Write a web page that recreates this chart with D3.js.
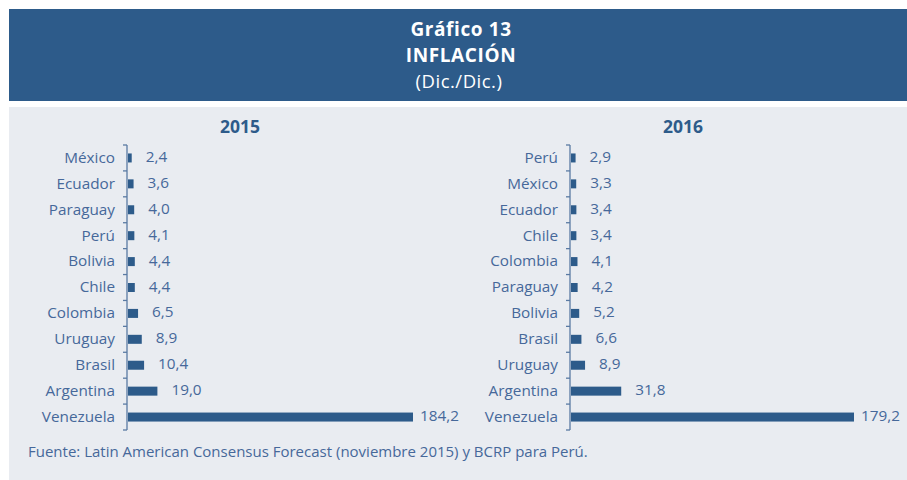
<!DOCTYPE html>
<html>
<head>
<meta charset="utf-8">
<script src="https://cdn.jsdelivr.net/npm/d3@7"></script>
<style>
  body { margin: 0; background: #fff; }
  text { font-family: "Open Sans", "DejaVu Sans", sans-serif; }
</style>
</head>
<body>
<svg id="chart" width="907" height="480"></svg>
<script>
// data
var countries2015 = ["México", "Ecuador", "Paraguay", "Perú", "Bolivia", "Chile", "Colombia", "Uruguay", "Brasil", "Argentina", "Venezuela"];
var values2015 = [2.4, 3.6, 4.0, 4.1, 4.4, 4.4, 6.5, 8.9, 10.4, 19.0, 184.2];

var countries2016 = ["Perú", "México", "Ecuador", "Chile", "Colombia", "Paraguay", "Bolivia", "Brasil", "Uruguay", "Argentina", "Venezuela"];
var values2016 = [2.9, 3.3, 3.4, 3.4, 4.1, 4.2, 5.2, 6.6, 8.9, 31.8, 179.2];

var years = ["2015", "2016"];

var blue = "#2d5b8a";
var textBlue = "#46689a";

var svg = d3.select("#chart");
var fmt = function(v) { return v.toFixed(1).replace(".", ","); };

// header band + panel
svg.append("rect").attr("x", 9).attr("y", 9).attr("width", 898).attr("height", 92).attr("fill", blue);
svg.append("rect").attr("x", 9).attr("y", 107).attr("width", 898).attr("height", 373).attr("fill", "#e9ecf1");

var title = svg.append("g").attr("fill", "#fff").attr("text-anchor", "middle");
title.append("text").attr("x", 461).attr("y", 36).attr("font-size", 19).attr("font-weight", "bold")
     .attr("letter-spacing", 0.6).text("Gráfico 13");
title.append("text").attr("x", 461).attr("y", 62).attr("font-size", 19).attr("font-weight", "bold")
     .attr("letter-spacing", 0.6).text("INFLACIÓN");
title.append("text").attr("x", 459).attr("y", 88).attr("font-size", 18.5)
     .attr("letter-spacing", 0.5).text("(Dic./Dic.)");

var barchart = function(countries, values, year, axisX, endX, yearX) {
    var y = d3.scaleBand()
        .domain(countries)
        .range([145, 430]);

    var x = d3.scaleLinear()
        .domain([0, d3.max(values)])
        .range([axisX + 1, endX]);

    var g = svg.append("g");

    g.append("text")
        .attr("x", yearX).attr("y", 133)
        .attr("text-anchor", "middle")
        .attr("font-size", 17.5).attr("font-weight", "bold")
        .attr("fill", blue)
        .text(year);

    // category labels via the band axis, ticks drawn between the bands
    var axis = d3.axisLeft(y).tickSize(0).tickPadding(12);
    var ax = g.append("g")
        .attr("transform", "translate(" + axisX + ",0)")
        .call(axis);
    ax.select(".domain").remove();
    ax.selectAll("text")
        .attr("font-size", 15.3)
        .attr("fill", textBlue)
        .attr("font-family", "'Open Sans', sans-serif");

    var bounds = countries.map(function(c) { return y(c); }).concat([y.range()[1]]);
    g.append("line")
        .attr("x1", axisX).attr("x2", axisX)
        .attr("y1", y.range()[0]).attr("y2", y.range()[1])
        .attr("stroke", "#5a7aa3").attr("stroke-width", 1.3);
    g.selectAll(".tk")
        .data(bounds)
        .enter()
        .append("line")
        .attr("x1", axisX - 4).attr("x2", axisX)
        .attr("y1", function(d) { return d; })
        .attr("y2", function(d) { return d; })
        .attr("stroke", "#5a7aa3").attr("stroke-width", 1.3);

    var barH = 9;
    g.selectAll(".bar")
        .data(values)
        .enter()
        .append("rect")
        .attr("x", x(0))
        .attr("y", function(d, i) { return y(countries[i]) + y.bandwidth() / 2 - barH / 2; })
        .attr("width", function(d) { return x(d) - x(0); })
        .attr("height", barH)
        .attr("fill", blue);

    g.selectAll(".val")
        .data(values)
        .enter()
        .append("text")
        .attr("x", function(d) { return Math.min(x(d) + 14, endX + 7); })
        .attr("y", function(d, i) { return y(countries[i]) + y.bandwidth() / 2 + 4; })
        .attr("font-size", 15.3)
        .attr("fill", textBlue)
        .text(fmt);
};

barchart(countries2015, values2015, years[0], 127, 413, 240);
barchart(countries2016, values2016, years[1], 570, 854, 683);

svg.append("text")
    .attr("x", 28).attr("y", 457)
    .attr("font-size", 15)
    .attr("fill", textBlue)
    .text("Fuente: Latin American Consensus Forecast (noviembre 2015) y BCRP para Perú.");
</script>
</body>
</html>
